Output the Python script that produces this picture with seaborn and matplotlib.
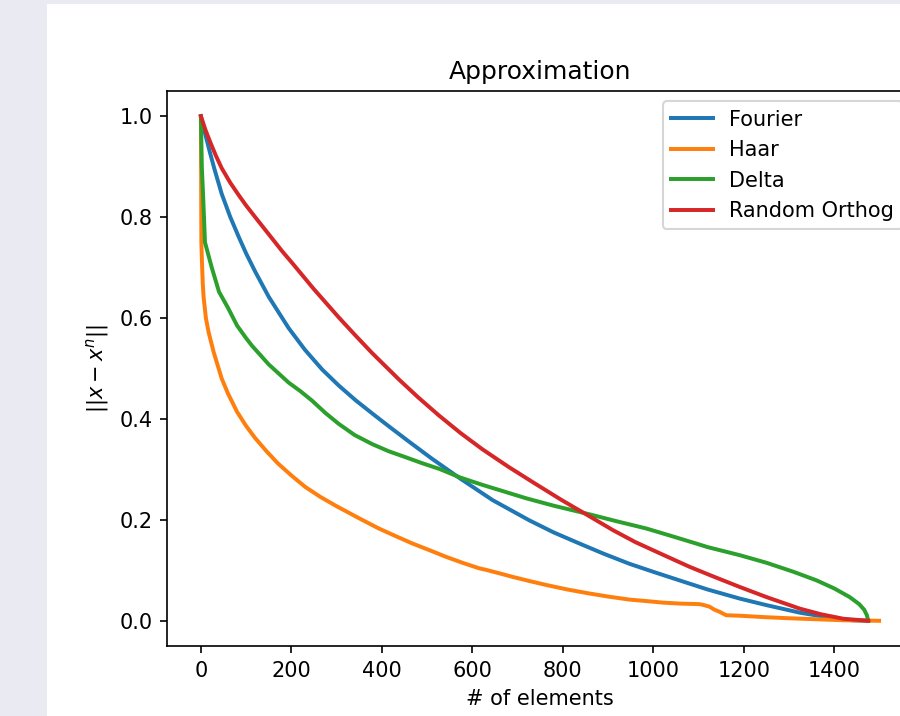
import matplotlib
matplotlib.use("Agg")
import matplotlib.pyplot as plt
from matplotlib.patches import Rectangle
import seaborn as sns

# values
fourier_x = [0, 10, 20, 30, 46, 65, 84, 100, 120, 150, 194, 230, 268, 305, 342, 380, 416, 460, 511, 573,
             645, 726, 780, 837, 890, 947, 1000, 1058, 1120, 1191, 1250, 1324, 1398, 1440, 1471]
fourier_y = [1.0, 0.963, 0.928, 0.895, 0.846, 0.800, 0.760, 0.728, 0.692, 0.642, 0.580, 0.537, 0.498, 0.466, 0.437, 0.410, 0.385, 0.355, 0.321, 0.282,
             0.239, 0.199, 0.175, 0.153, 0.133, 0.113, 0.097, 0.080, 0.062, 0.044, 0.031, 0.016, 0.005, 0.001, 0.0]

haar_x = [0, 1, 2, 4, 6, 11, 17, 28, 46, 60, 80, 100, 120, 145, 170, 200, 231, 265, 300, 350, 393, 430, 468, 505, 541, 578, 615, 630,
          660, 689, 725, 763, 810, 859, 900, 947, 985, 1021, 1060, 1102, 1112, 1124, 1135, 1146, 1161, 1191, 1250, 1300, 1361, 1420, 1499]
haar_y = [1.0, 0.75, 0.72, 0.67, 0.641, 0.60, 0.572, 0.533, 0.48, 0.45, 0.414, 0.386, 0.362, 0.336, 0.312, 0.288, 0.265, 0.245, 0.227, 0.203, 0.183, 0.168, 0.153, 0.140, 0.127, 0.115, 0.104, 0.101,
          0.094, 0.087, 0.079, 0.071, 0.062, 0.054, 0.048, 0.042, 0.039, 0.036, 0.034, 0.033, 0.031, 0.028, 0.022, 0.018, 0.011, 0.010, 0.007, 0.005, 0.003, 0.001, 0.0]

delta_x = [0, 2, 5, 9, 24, 40, 60, 80, 100, 113, 150, 194, 220, 246, 275, 305, 340, 379, 415, 453, 490, 527, 573, 620, 660, 718,
           780, 859, 920, 984, 1040, 1095, 1120, 1191, 1250, 1310, 1361, 1400, 1434, 1455, 1466, 1472, 1475]
delta_y = [1.0, 0.90, 0.84, 0.75, 0.70, 0.652, 0.62, 0.585, 0.560, 0.545, 0.508, 0.472, 0.455, 0.436, 0.412, 0.390, 0.368, 0.350, 0.336, 0.324, 0.312, 0.301, 0.284, 0.270, 0.259, 0.243,
           0.228, 0.211, 0.197, 0.183, 0.168, 0.153, 0.146, 0.130, 0.115, 0.097, 0.080, 0.064, 0.047, 0.033, 0.022, 0.011, 0.0]

orthog_x = [0, 10, 20, 33, 46, 65, 84, 100, 120, 150, 180, 200, 250, 305, 340, 378, 438, 480, 526, 574, 622, 680,
            733, 796, 859, 910, 960, 1021, 1080, 1132, 1191, 1250, 1324, 1370, 1420, 1475]
orthog_y = [1.0, 0.973, 0.950, 0.922, 0.897, 0.868, 0.843, 0.823, 0.800, 0.766, 0.732, 0.711, 0.657, 0.601, 0.567, 0.531, 0.478, 0.443, 0.407, 0.372, 0.340, 0.305,
            0.275, 0.240, 0.207, 0.180, 0.156, 0.131, 0.107, 0.088, 0.067, 0.047, 0.024, 0.013, 0.004, 0.0]

names = ["Fourier", "Haar", "Delta", "Random Orthog"]
xs = [fourier_x, haar_x, delta_x, orthog_x]
ys = [fourier_y, haar_y, delta_y, orthog_y]
colors = sns.color_palette("tab10", 4)

fig = plt.figure(figsize=(6.0, 716 / 150), dpi=150, facecolor="#eaeaf2")
# white figure area of the notebook output
fig.patches.append(Rectangle((47 / 900, 0), 1, 1 - 4 / 716, transform=fig.transFigure,
                             facecolor="white", edgecolor="none", zorder=-1))

# axes runs past the right edge, like the cropped screenshot
ax = fig.add_axes([167 / 900, 70 / 716, 746 / 900, 555 / 716])
for name, x, y, c in zip(names, xs, ys, colors):
    sns.lineplot(x=x, y=y, label=name, color=c, ax=ax, sort=False, linewidth=1.9)

ax.set_title("Approximation")
ax.set_xlabel("# of elements")
ax.set_ylabel("$||x - x^n||$")
ax.legend(loc="upper right")

fig.savefig("out.png", dpi=150, facecolor=fig.get_facecolor())
